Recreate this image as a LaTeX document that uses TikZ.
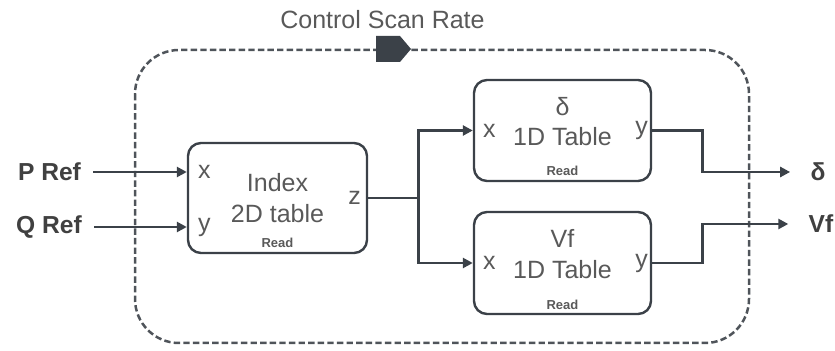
\documentclass[tikz,border=0pt]{standalone}
\usepackage{fontspec}
\setmainfont{Liberation Sans}
\usetikzlibrary{arrows.meta,positioning}
\definecolor{ink}{HTML}{3B4148}
\definecolor{txt}{HTML}{595959}
\definecolor{lab}{HTML}{404040}
\tikzset{
  blk/.style={draw=ink,line width=1.2pt,rounded corners=6.5pt,inner sep=0pt},
  wire/.style={draw=ink,line width=1.3pt},
  sig/.style={wire,-{Triangle[length=5pt,width=5pt]}},
  frame/.style={draw=ink!90,line width=1.25pt,dash pattern=on 3.2pt off 1.6pt,rounded corners=22pt},
  lbl/.style={text=txt,font=\fontsize{12.5}{15.2}\selectfont,inner sep=0pt},
  port/.style={lbl},
  rd/.style={text=txt,font=\bfseries\fontsize{6.5}{8}\selectfont,inner sep=0pt},
  io/.style={text=lab,font=\bfseries\fontsize{12.3}{14}\selectfont,inner sep=0pt}
}
\begin{document}
\begin{tikzpicture}[x=0.5pt,y=-0.5pt]
\useasboundingbox (0,0) rectangle (835,351);
\draw[frame] (135,50) rectangle (749,343);
\node[lbl] (scan) at (382.5,20) {Control Scan Rate};
\fill[ink] (376,36) -- (400,36) -- (411,49) -- (400,62) -- (376,62) -- cycle;

\node[blk,minimum width=89.5pt,minimum height=55pt] (idx) at (277.5,198) {};
\node[blk,minimum width=88.5pt,minimum height=50.5pt] (dtab) at (562.5,130.5) {};
\node[blk,minimum width=88.5pt,minimum height=51pt] (vtab) at (562.5,263) {};

\node[lbl,align=center] (idxtxt) at (idx.center) {Index\\2D table};
\node[rd] (idxrd) at ([yshift=5.5pt]idx.south) {Read};
\node[lbl,align=center] (dtxt) at ([yshift=4.6pt]dtab.center) {δ\\1D Table};
\node[rd] (drd) at ([yshift=5.5pt]dtab.south) {Read};
\node[lbl,align=center] (vtxt) at ([yshift=4.5pt]vtab.center) {Vf\\1D Table};
\node[rd] (vrd) at ([yshift=5pt]vtab.south) {Read};

\node[io] (pref) at (49.5,172) {P Ref};
\node[io] (qref) at (49,227) {Q Ref};
\node[io] (dout) at (818,172) {δ};
\node[io] (vout) at (821,224) {Vf};

\node[port,anchor=west,xshift=5.5pt] (ix) at (idx.west |- pref) {x};
\node[port,anchor=west,xshift=5.5pt] (iy) at (idx.west |- qref) {y};
\node[port,anchor=east,xshift=-3.5pt] (iz) at (idx.east) {z};
\node[port,anchor=west,xshift=5pt] (dx) at (dtab.west) {x};
\node[port,anchor=east,xshift=-2pt] (dy) at (dtab.east) {y};
\node[port,anchor=west,xshift=5pt] (vx) at (vtab.west) {x};
\node[port,anchor=east,xshift=-2pt] (vy) at (vtab.east) {y};

\coordinate[right=25pt of idx.east] (br);
\coordinate[right=25pt of dtab.east] (dk);
\coordinate[right=25pt of vtab.east] (vk);

\draw[sig,shorten <=6pt] (pref.east) -- (idx.west |- pref);
\draw[sig,shorten <=6pt] (qref.east) -- (idx.west |- qref);
\draw[wire] (idx.east) -- (br);
\draw[sig] (br) |- (dtab.west);
\draw[sig] (br) |- (vtab.west);
\draw[sig,shorten >=10pt] (dtab.east) -- (dk) |- (dout.west);
\draw[sig,shorten >=10pt] (vtab.east) -- (vk) |- (vout.west);
\end{tikzpicture}
\end{document}
